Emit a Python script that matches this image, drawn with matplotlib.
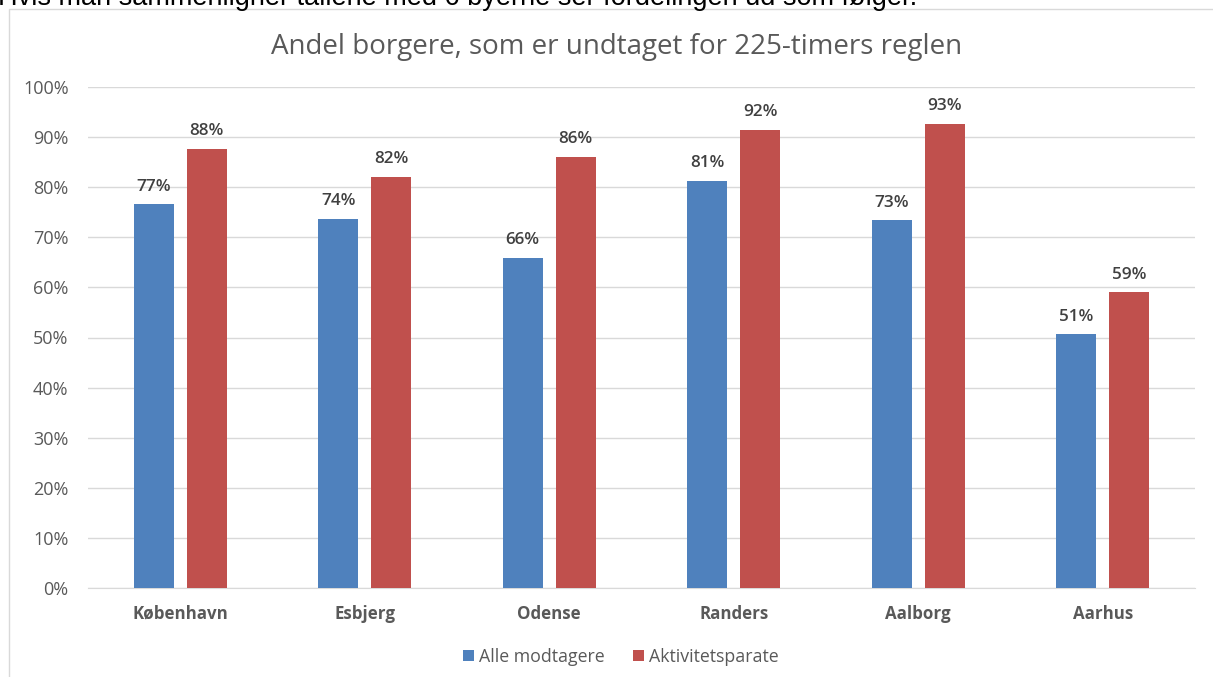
import matplotlib
matplotlib.use('Agg')
import matplotlib.pyplot as plt
import numpy as np
from matplotlib.patches import Rectangle

# data
cities = ['København', 'Esbjerg', 'Odense', 'Randers', 'Aalborg', 'Aarhus']
alle_modtagere = [76.6, 73.7, 65.9, 81.2, 73.4, 50.6]
aktivitetsparate = [87.6, 82.1, 86.0, 91.5, 92.7, 59.0]
series_names = ['Alle modtagere', 'Aktivitetsparate']
y_ticks = list(range(0, 101, 10))

BLUE = '#4F81BD'
RED = '#C0504D'
GREY = '#595959'

plt.rcParams['font.family'] = ['Open Sans', 'DejaVu Sans']

W, H = 1213, 677
fig = plt.figure(figsize=(W / 100, H / 100), dpi=100)
fig.patch.set_facecolor('white')

# sentence above the chart, cropped off at the top like in the screenshot
fig.text(-2 / W, 1 - 5 / H, 'Hvis man sammenligner tallene med 6 byerne ser fordelingen ud som følger.',
         fontsize=19.5, family='Liberation Sans', color='black', va='baseline', ha='left')

# chart area border
fig.patches.append(Rectangle((9 / W, -0.01), 1.0, 1 - 9 / H + 0.01, transform=fig.transFigure,
                             fill=False, edgecolor='#D9D9D9', linewidth=1.0))

ax = fig.add_axes([88 / W, (H - 588) / H, (1195 - 88) / W, (588 - 87) / H])
x = np.arange(len(cities))
w = 0.217
off = 0.1435
b1 = ax.bar(x - off, alle_modtagere, w, color=BLUE, label=series_names[0], zorder=3)
b2 = ax.bar(x + off, aktivitetsparate, w, color=RED, label=series_names[1], zorder=3)

for bars, vals in ((b1, alle_modtagere), (b2, aktivitetsparate)):
    for rect, v in zip(bars, vals):
        ax.annotate(f'{v:.0f}%', (rect.get_x() + rect.get_width() / 2, v),
                    xytext=(0, 7), textcoords='offset points', ha='center', va='bottom',
                    fontsize=12.3, fontweight='semibold', color='#404040')

ax.set_xlim(-0.5, len(cities) - 0.5)
ax.set_ylim(0, 100)
ax.set_yticks(y_ticks)
ax.set_yticklabels([f'{t}%' for t in y_ticks], fontsize=13, color=GREY)
ax.set_xticks(x)
ax.set_xticklabels(cities, fontsize=12.2, fontweight='bold', color=GREY)
ax.tick_params(axis='both', length=0)
ax.tick_params(axis='y', pad=14)
ax.tick_params(axis='x', pad=12)
ax.grid(axis='y', color='#D9D9D9', linewidth=1.0, zorder=0)
for s in ax.spines.values():
    s.set_visible(False)
ax.spines['bottom'].set_visible(True)
ax.spines['bottom'].set_color('#D9D9D9')
ax.spines['bottom'].set_zorder(0)

fig.text(617 / W, 1 - 47 / H, 'Andel borgere, som er undtaget for 225-timers reglen',
         fontsize=20, color=GREY, ha='center', va='center')

fig.legend(handles=[b1, b2], labels=series_names, loc='center', bbox_to_anchor=(621 / W, 1 - 657 / H),
           ncol=2, frameon=False, fontsize=12.8, handlelength=0.6, handleheight=0.6,
           handletextpad=0.3, columnspacing=1.6, labelcolor=GREY)

fig.savefig('out.png', dpi=100)
